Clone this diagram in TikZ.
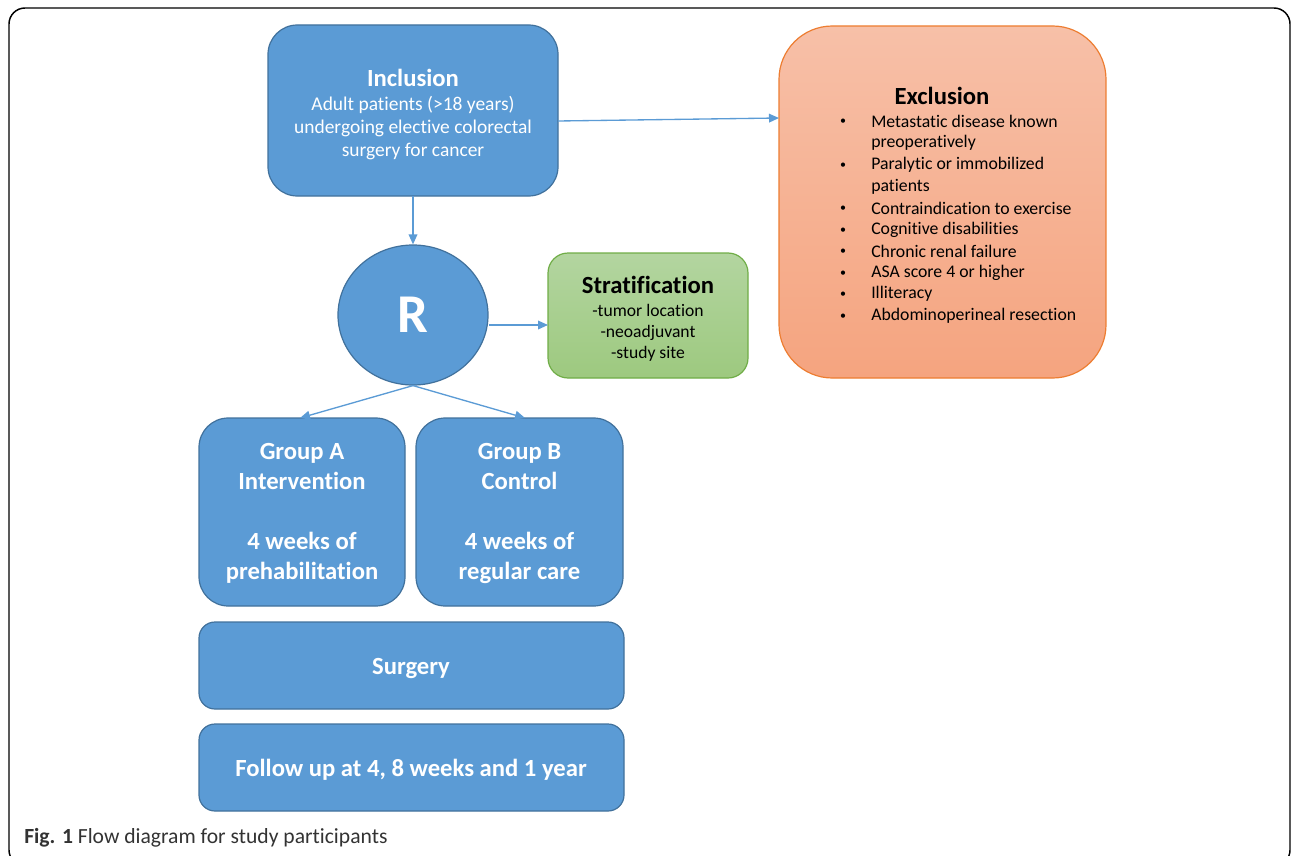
\documentclass[tikz,border=0pt]{standalone}
\usepackage{fontspec}
\setmainfont{Carlito}[Ligatures=NoCommon]
\usetikzlibrary{arrows.meta,shapes.geometric}
\definecolor{bfill}{HTML}{5B9BD5}
\definecolor{bdraw}{HTML}{41719C}
\definecolor{otop}{HTML}{F7C0A8}
\definecolor{obot}{HTML}{F5A47F}
\definecolor{odraw}{HTML}{ED7D31}
\definecolor{gtop}{HTML}{B3D5A0}
\definecolor{gbot}{HTML}{9DC97F}
\definecolor{gdraw}{HTML}{70AD47}
\definecolor{capgray}{HTML}{333333}
\tikzset{
  bluebox/.style={draw=bdraw, fill=bfill, line width=0.9pt, text=white},
  conn/.style={draw=bfill, line width=1pt, -{Triangle[length=7.5pt,width=6.5pt]}},
  ttl/.style={font=\bfseries\fontsize{18.5}{20}\selectfont},
  incbody/.style={font=\fontsize{14.6}{17.3}\selectfont},
  exbody/.style={font=\fontsize{13.3}{16}\selectfont},
  strbody/.style={font=\fontsize{13.2}{15.75}\selectfont},
  grp/.style={font=\bfseries\fontsize{18.5}{22.5}\selectfont, text=white, align=center},
}
\begin{document}
\begin{tikzpicture}[x=0.75pt,y=-0.75pt]
\useasboundingbox (0,0) rectangle (1292,856);
\begin{scope}
\clip (0,0) rectangle (1292,856);
\draw[line width=1.1pt, rounded corners=12pt] (9,8) rectangle (1290,866);
\end{scope}
% Inclusion
\path[bluebox, rounded corners=22pt] (268,25) rectangle (558,196);
\node[ttl, text=white] (inctitle) at (413,78) {Inclusion};
\node[incbody, text=white, align=center] (inctext) at (413,128) {Adult patients (>18 years)\\undergoing elective colorectal\\surgery for cancer};
\coordinate (incR) at (558,121);
\coordinate (incB) at (413,196);
% Exclusion
\shade[top color=otop, bottom color=obot, draw=odraw, line width=0.9pt, rounded corners=40pt] (779,26) rectangle (1106,378);
\coordinate (excL) at (779,118);
\node[ttl] (exctitle) at (942,96) {Exclusion};
\foreach \y/\t/\b in {121/Metastatic disease known/1, 143/preoperatively/0, 165/Paralytic or immobilized/1, 186.5/patients/0, 208/Contraindication to exercise/1, 229.5/Cognitive disabilities/1, 251/Chronic renal failure/1, 272.5/ASA score 4 or higher/1, 294/Illiteracy/1, 316/Abdominoperineal resection/1}{
  \node[exbody, anchor=west, inner sep=0pt] (ex\y) at (871,\y) {\t};
  \ifnum\b=1 \node[font=\fontsize{9}{10}\selectfont, inner sep=0pt] (bul\y) at (843,\y+1) {•}; \fi
}
% R circle
\node[ellipse, bluebox, minimum width=112.5pt, minimum height=105pt, inner sep=0pt, font=\bfseries\fontsize{41}{46}\selectfont] (R) at (413,315) {R};
% Stratification
\shade[top color=gtop, bottom color=gbot, draw=gdraw, line width=0.9pt, rounded corners=15pt] (548,253) rectangle (748,378);
\coordinate (strL) at (548,325);
\node[ttl] (strtitle) at (648,285) {Stratification};
\node[strbody, align=center] (strtext) at (648,333) {-tumor location\\-neoadjuvant\\-study site};
% Groups
\path[bluebox, rounded corners=22pt] (199,418) rectangle (405,606);
\path[bluebox, rounded corners=22pt] (416,418) rectangle (623,606);
\node[grp] (ga) at (302,513) {Group A\\Intervention\\[22.5pt]4 weeks of\\prehabilitation};
\node[grp] (gb) at (519.5,513) {Group B\\Control\\[22.5pt]4 weeks of\\regular care};
\coordinate (gaT) at (300,418);
\coordinate (gbT) at (525,418);
% Surgery and follow up
\path[bluebox, rounded corners=12pt] (199,622) rectangle (624,709);
\node[grp] (surg) at (411,668) {Surgery};
\path[bluebox, rounded corners=12pt] (199,724) rectangle (624,811);
\node[grp] (fu) at (411,770) {Follow up at 4, 8 weeks and 1 year};
% Connectors
\draw[conn] (incR) -- (excL);
\draw[conn] (incB) -- (R.north);
\draw[conn] (R.east |- strL) -- (strL);
\draw[conn] (R.south) -- (gaT);
\draw[conn] (R.south) -- (gbT);
% Caption
\node[anchor=west, inner sep=0pt, text=capgray, font=\fontsize{16.2}{18}\selectfont] (cap) at (24,838) {\textbf{Fig. 1} Flow diagram for study participants};
\end{tikzpicture}
\end{document}
